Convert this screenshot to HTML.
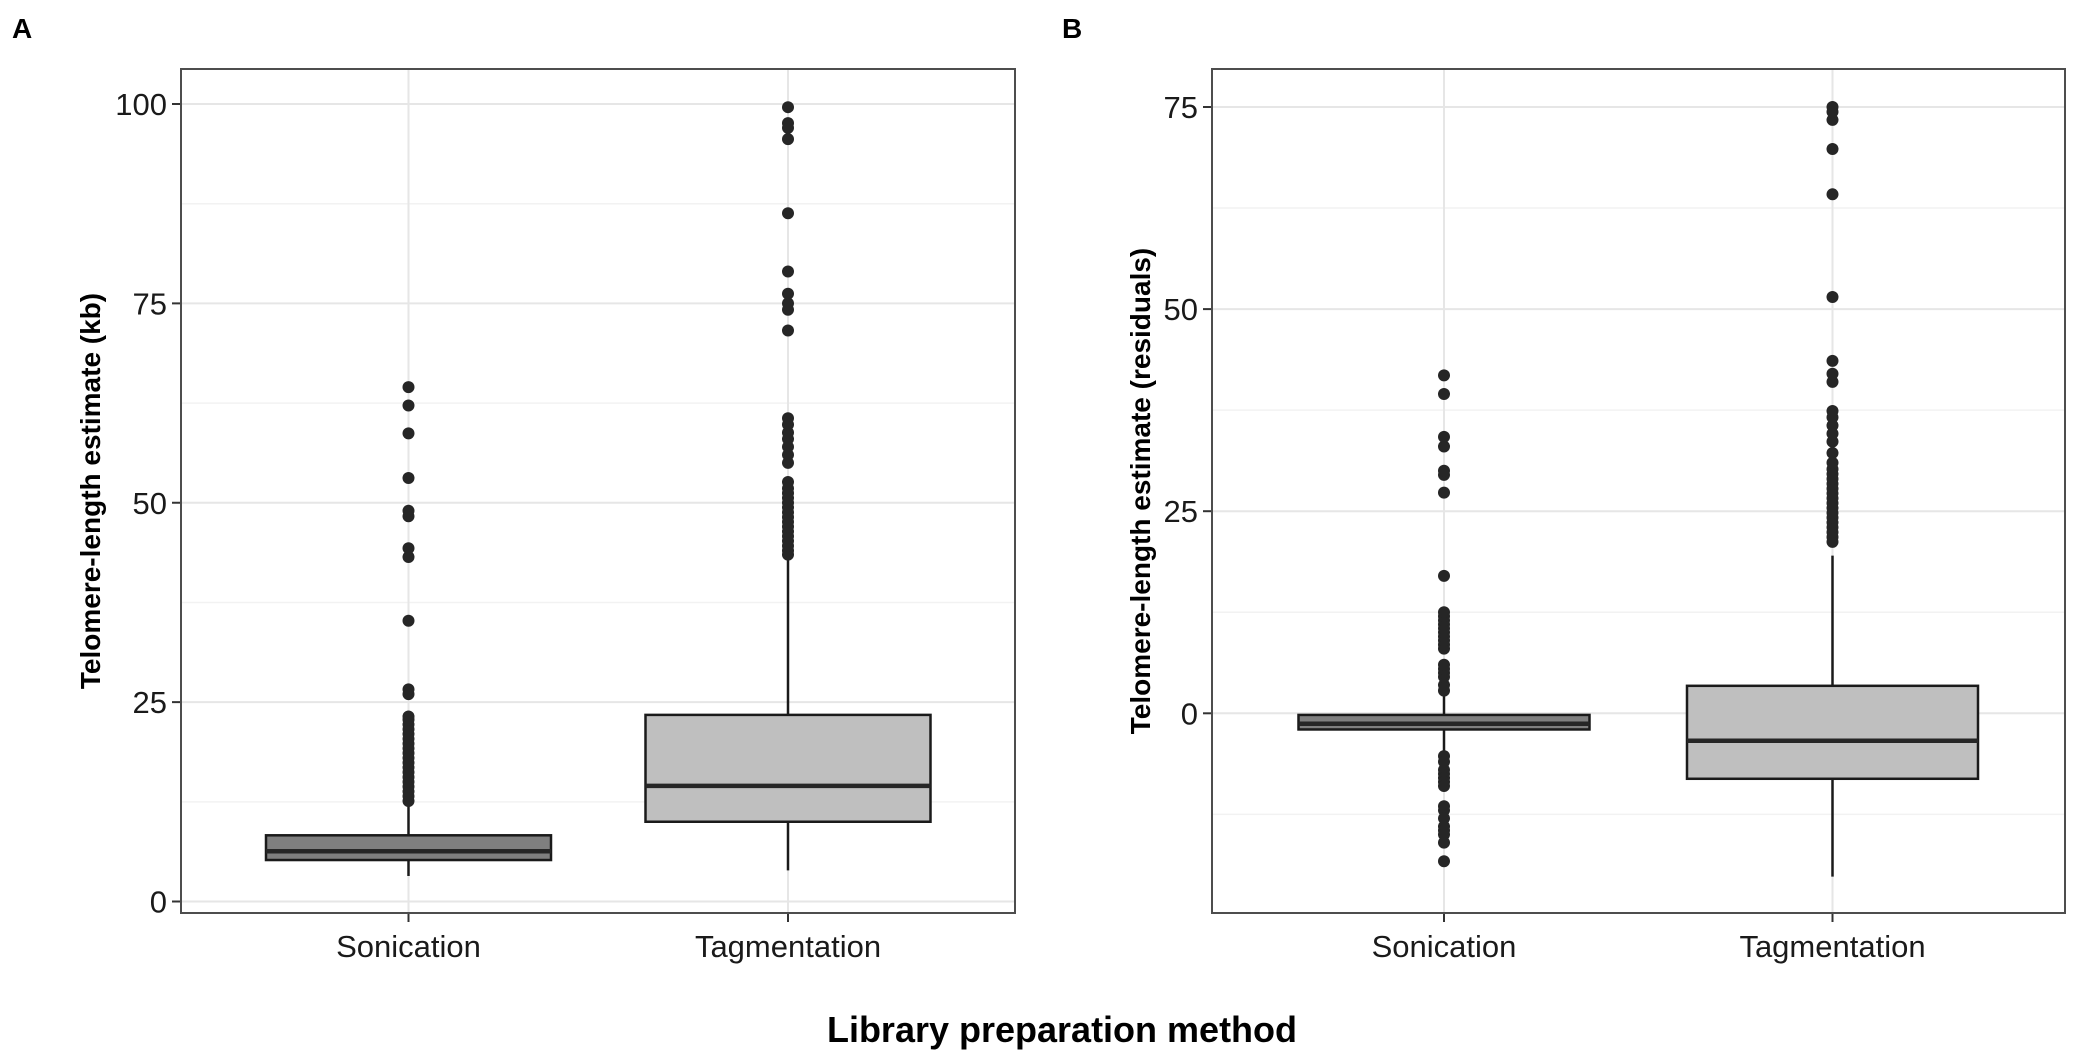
<!DOCTYPE html>
<html><head><meta charset="utf-8"><style>
body{margin:0;background:#fff;}
svg{display:block;font-family:"Liberation Sans",Arial,sans-serif;}
</style></head><body>
<svg id="chart" width="2100" height="1050" viewBox="0 0 2100 1050" xmlns="http://www.w3.org/2000/svg">
<text x="12" y="38" font-size="28" font-weight="bold">A</text>
<text x="1062" y="38" font-size="28" font-weight="bold">B</text>
<text x="1062" y="1042" font-size="36" font-weight="bold" text-anchor="middle">Library preparation method</text>
<g id="pa"></g>
<g id="pb"></g>
</svg>
<script>
const categories = ["Sonication","Tagmentation"];
// Panel A stats: [lowWhisker, q1, median, q3, highWhisker]
const statsA_son = [3.2, 5.2, 6.3, 8.3, 12.2];
const statsA_tag = [3.9, 10, 14.5, 23.4, 43];
const outA_son = [12.6,13.2,13.8,14.4,15,15.6,16.2,16.8,17.4,18,18.6,19.2,19.8,20.4,21,21.6,22.2,22.8,23.2,26,26.6,35.2,43.2,44.3,48.3,49,53.1,58.7,62.2,64.5];
const outA_tag = [43.5,44,44.6,45.2,45.8,46.4,47,47.6,48.2,48.8,49.4,50,50.6,51.2,51.8,52.6,55,56,57,58,58.8,59.8,60.6,71.6,74.2,75,76.2,79,86.3,95.6,97,97.6,99.6];
const ticksA = [0,25,50,75,100];
// Panel B
const statsB_son = [-5, -2.0, -1.3, -0.2, 2.3];
const statsB_tag = [-20.2, -8.1, -3.4, 3.4, 19.5];
const outB_son = [2.8,3.5,4.5,5,5.5,6,8,8.5,9,9.5,10,10.5,11,11.5,12,12.5,17,27.3,29.5,30,33,34.2,39.5,41.8,-5.3,-6,-7,-7.5,-8,-8.5,-9,-11.5,-12,-13,-14,-14.5,-15,-16,-18.3];
const outB_tag = [21.2,21.8,22.4,23,23.6,24.2,24.8,25.4,26,26.6,27.2,27.8,28.4,29,29.6,30.2,31,32.2,33.6,34.6,35.6,36.6,37.4,41,42,43.6,51.5,64.2,69.8,73.4,74.4,75];
const ticksB = [0,25,50,75];

const NS="http://www.w3.org/2000/svg";
function mk(parent,tag,attrs){const e=document.createElementNS(NS,tag);for(const k in attrs)e.setAttribute(k,attrs[k]);parent.appendChild(e);return e;}

function panel(g, o){
  const y=v=>o.y0 - (v-o.v0)*o.ppu;
  const xs=[o.xs0,o.xs1];
  const bg=mk(g,'rect',{x:o.L,y:o.T,width:o.R-o.L,height:o.B-o.T,fill:'#fff'});
  
  
  // minor grid
  for(let i=0;i<o.ticks.length+1;i++){
    const v=o.ticks[0]-12.5+25*i; const yy=y(v);
    if(yy>o.T&&yy<o.B){const l=mk(g,'line',{x1:o.L,x2:o.R,y1:yy,y2:yy,stroke:'#f2f2f2','stroke-width':1.5});
      
      }
  }
  o.ticks.forEach(v=>{const yy=y(v);
    const l=mk(g,'line',{x1:o.L,x2:o.R,y1:yy,y2:yy,stroke:'#e6e6e6','stroke-width':2});
    
    
    const t=mk(g,'line',{x1:o.L-9,x2:o.L,y1:yy,y2:yy,stroke:'#333','stroke-width':2});
    
    
    const tx=mk(g,'text',{x:o.L-14,y:yy+11,'font-size':31,'text-anchor':'end',fill:'#1a1a1a'});
    tx.textContent=v;
    
    
  });
  xs.forEach((x,i)=>{
    const l=mk(g,'line',{x1:x,x2:x,y1:o.T,y2:o.B,stroke:'#e6e6e6','stroke-width':2});
    
    
    const t=mk(g,'line',{x1:x,x2:x,y1:o.B,y2:o.B+9,stroke:'#333','stroke-width':2});
    
    
    const tx=mk(g,'text',{x:x,y:o.B+44,'font-size':31,'text-anchor':'middle',fill:'#1a1a1a'});
    tx.textContent=categories[i];
    
    
  });
  const fills=['#7f7f7f','#bfbfbf'];
  [o.s0,o.s1].forEach((s,i)=>{
    const x=xs[i], hw=o.hw;
    const w1=mk(g,'line',{x1:x,x2:x,y1:y(s[0]),y2:y(s[1]),stroke:'#1a1a1a','stroke-width':2.5});
    
    
    const w2=mk(g,'line',{x1:x,x2:x,y1:y(s[3]),y2:y(s[4]),stroke:'#1a1a1a','stroke-width':2.5});
    
    
    const b=mk(g,'rect',{x:x-hw,y:y(s[3]),width:2*hw,height:y(s[1])-y(s[3]),fill:fills[i],stroke:'#1a1a1a','stroke-width':2.5});
    
    
    const m=mk(g,'line',{x1:x-hw,x2:x+hw,y1:y(s[2]),y2:y(s[2]),stroke:'#262626','stroke-width':4.5});
    
    
  });
  [o.o0,o.o1].forEach((arr,i)=>arr.forEach(v=>{
    const c=mk(g,'circle',{cx:xs[i],cy:y(v),r:6,fill:'#262626'});
    
    
  }));
  const br=mk(g,'rect',{x:o.L,y:o.T,width:o.R-o.L,height:o.B-o.T,fill:'none',stroke:'#4d4d4d','stroke-width':2});
  
  
  const yt=mk(g,'text',{x:0,y:0,'font-size':28,'font-weight':'bold','text-anchor':'middle',transform:`translate(${o.ytx},${(o.T+o.B)/2}) rotate(-90)`});
  yt.textContent=o.ytitle;
  
  
}
panel(document.getElementById('pa'),{L:181,R:1015,T:69,B:913,y0:901.5,v0:0,ppu:7.975,xs0:408.5,xs1:788,hw:142.5,
  ticks:ticksA,s0:statsA_son,s1:statsA_tag,o0:outA_son,o1:outA_tag,ytx:100,ytitle:'Telomere-length estimate (kb)'});
panel(document.getElementById('pb'),{L:1212,R:2065,T:69,B:913,y0:713.3,v0:0,ppu:8.084,xs0:1444,xs1:1832.5,hw:145.5,
  ticks:ticksB,s0:statsB_son,s1:statsB_tag,o0:outB_son,o1:outB_tag,ytx:1150,ytitle:'Telomere-length estimate (residuals)'});
</script>
</body></html>
